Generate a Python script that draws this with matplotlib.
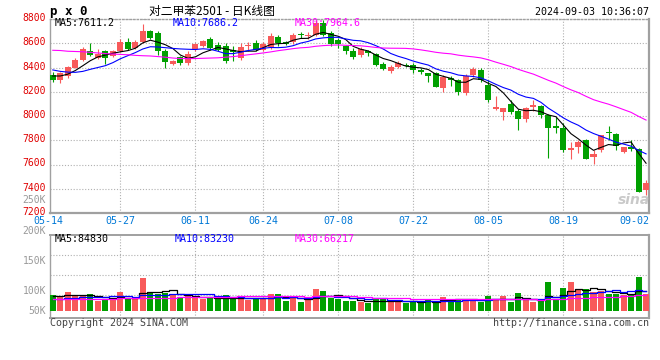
import matplotlib
matplotlib.use("Agg")
import matplotlib.pyplot as plt
import matplotlib.transforms as mtransforms
import numpy as np
import pandas as pd

# ---------------- data ----------------
tick_idx = [0, 9, 19, 28, 38, 48, 58, 68, 78]
tick_labels = ["05-14", "05-27", "06-11", "06-24", "07-08", "07-22", "08-05", "08-19", "09-02"]

opens = [8340, 8295, 8330, 8400, 8462, 8532, 8480, 8535, 8495, 8533,
         8608, 8557, 8610, 8703, 8684, 8540, 8430, 8484, 8437, 8550,
         8575, 8638, 8588, 8575, 8541, 8478, 8575, 8602, 8541, 8569,
         8651, 8610, 8610, 8672, 8662, 8671, 8765, 8684, 8630, 8575,
         8539, 8500, 8533, 8511, 8429, 8368, 8404, 8423, 8418, 8379,
         8352, 8352, 8234, 8316, 8297, 8190, 8338, 8379, 8256, 8055,
         8036, 8099, 8044, 7975, 8077, 8082, 8008, 7918, 7904, 7720,
         7747, 7802, 7665, 7718, 7871, 7852, 7706, 7747, 7725, 7390]
closes = [8298, 8355, 8404, 8462, 8555, 8505, 8510, 8480, 8538, 8614,
          8555, 8608, 8703, 8645, 8533, 8448, 8450, 8437, 8511, 8594,
          8615, 8560, 8547, 8451, 8530, 8566, 8583, 8542, 8594, 8662,
          8602, 8597, 8671, 8665, 8668, 8770, 8672, 8590, 8590, 8533,
          8487, 8553, 8520, 8423, 8388, 8401, 8437, 8410, 8377, 8360,
          8333, 8242, 8324, 8294, 8201, 8330, 8388, 8295, 8132, 8072,
          8065, 8036, 7975, 8069, 8091, 8005, 7902, 7904, 7720, 7739,
          7788, 7648, 7690, 7840, 7857, 7753, 7747, 7731, 7376, 7445]
highs = [8365, 8362, 8414, 8475, 8565, 8600, 8550, 8545, 8545, 8635,
         8645, 8625, 8758, 8712, 8700, 8553, 8465, 8495, 8539, 8603,
         8630, 8655, 8610, 8600, 8575, 8602, 8610, 8625, 8610, 8684,
         8670, 8616, 8684, 8690, 8690, 8790, 8790, 8700, 8643, 8588,
         8560, 8566, 8547, 8520, 8443, 8423, 8451, 8437, 8437, 8393,
         8355, 8366, 8338, 8333, 8305, 8345, 8407, 8393, 8297, 8165,
         8069, 8132, 8055, 8077, 8132, 8091, 8017, 7995, 7940, 7788,
         7802, 7808, 7720, 7843, 7915, 7857, 7747, 7802, 7733, 7472]
lows = [8280, 8270, 8310, 8395, 8450, 8495, 8470, 8425, 8485, 8525,
        8545, 8550, 8602, 8632, 8505, 8400, 8420, 8420, 8420, 8540,
        8565, 8548, 8533, 8437, 8456, 8465, 8535, 8533, 8533, 8555,
        8575, 8583, 8594, 8640, 8635, 8660, 8660, 8575, 8560, 8512,
        8470, 8487, 8492, 8415, 8382, 8355, 8396, 8401, 8355, 8344,
        8283, 8240, 8195, 8250, 8173, 8175, 8324, 8278, 8118, 8050,
        7967, 8014, 7885, 7953, 8041, 7980, 7655, 7863, 7706, 7648,
        7692, 7643, 7606, 7706, 7805, 7720, 7692, 7714, 7376, 7349]
vol_k = [65.3, 62.6, 79.2, 65.3, 62.6, 69.5, 41.7, 51.4, 51.4, 79.2,
         51.4, 48.7, 136.2, 79.2, 72.3, 76.5, 65.3, 54.2, 65.3, 58.4,
         51.4, 54.2, 48.7, 65.3, 54.2, 58.4, 44.5, 54.2, 51.4, 69.5,
         69.5, 41.7, 62.6, 37.5, 48.7, 90.4, 82.0, 54.2, 48.7, 41.7,
         41.7, 37.5, 33.4, 51.4, 48.7, 41.7, 41.7, 33.4, 41.7, 33.4,
         51.4, 37.5, 58.4, 51.4, 48.7, 51.4, 44.5, 37.5, 61.2, 51.4,
         61.2, 37.5, 75.1, 48.7, 37.5, 41.7, 120.9, 44.5, 95.9, 120.9,
         86.2, 90.4, 79.2, 82.0, 72.3, 72.3, 65.3, 68.1, 141.8, 72.3]

# leading moving-average values (history before the window)
ma5_head = [8330, 8330, 8345, 8375]
ma10_head = [8380, 8368, 8362, 8360, 8368, 8385, 8400, 8415, 8440]
ma30_head = [8542, 8540, 8534, 8532, 8530, 8525, 8520, 8515, 8511, 8508,
             8505, 8500, 8497, 8495, 8490, 8485, 8478, 8474, 8473, 8474,
             8476, 8478, 8480, 8485, 8490, 8497, 8505, 8512, 8520]
vma5_head = [61, 63, 66, 67]
vma10_head = [49, 52, 54, 55, 57, 58, 59, 60, 61]
vma30_head = [51, 51, 51, 51, 52, 52, 52, 52, 52, 53,
              53, 54, 54, 55, 55, 56, 56, 57, 57, 58,
              58, 59, 59, 60, 60, 61, 61, 62, 62]

price_ticks = [7200, 7400, 7600, 7800, 8000, 8200, 8400, 8600, 8800]
vol_labels = ["250K", "200K", "150K", "100K", "50K"]

title_text = "对二甲苯2501 - 日K线图"
code_text = "p x 0"
time_text = "2024-09-03 10:36:07"
ma_labels = ["MA5:7611.2", "MA10:7686.2", "MA30:7964.6"]
vma_labels = ["MA5:84830", "MA10:83230", "MA30:66217"]

# ---------------- styling ----------------
W, H = 660, 360
RED = "#F85A5A"
GREEN = "#00A000"
GRID = "#B0B0B0"
BORDER = "#A0A0A0"
MA_COLORS = ["#000000", "#0000FF", "#FF00FF"]
MONO = "DejaVu Sans Mono"
CJK = ["Noto Sans CJK SC", "DejaVu Sans"]
DOT = (0, (1, 1.6))

fig = plt.figure(figsize=(W / 100, H / 100), dpi=100)
fig.patch.set_facecolor("white")


def fx(px):
    return px / W


def fy(py):
    return 1 - py / H


L, R = 50, 649
ax = fig.add_axes([fx(L), fy(213), (R - L) / W, (213 - 19) / H])
axv = fig.add_axes([fx(L), fy(318), (R - L) / W, (318 - 235) / H])

o = np.array(opens, float)
c = np.array(closes, float)
hi = np.array(highs, float)
lo = np.array(lows, float)
v = np.array(vol_k, float)
x = np.arange(len(c))
up = c >= o
cols = np.where(up, RED, GREEN)


def ma_with_head(values, n, head):
    m = pd.Series(values, dtype=float).rolling(n).mean().to_numpy()
    m[:len(head)] = head
    return m


# ---- main candlestick panel ----
for a in (ax, axv):
    a.set_xlim(-0.37, 79.39)
    for i in tick_idx[1:-1]:
        a.axvline(i, color=GRID, linestyle=DOT, linewidth=0.8, zorder=0)

ax.set_ylim(7200, 8800)
ax.set_yticks(price_ticks)
ax.set_yticklabels([str(t) for t in price_ticks])
ax.grid(axis="y", color=GRID, linestyle=DOT, linewidth=0.8, zorder=0)
ax.set_axisbelow(True)

ax.vlines(x, lo, hi, colors=cols, linewidth=0.8, zorder=3)
diff = np.abs(c - o)
body_h = np.maximum(diff, 9)
body_b = np.where(diff < 9, (o + c) / 2 - 4.5, np.minimum(o, c))
ax.bar(x, body_h, bottom=body_b, width=0.8, color=cols, linewidth=0, zorder=4)

ma5 = ma_with_head(closes, 5, ma5_head)
ma10 = ma_with_head(closes, 10, ma10_head)
ma30 = ma_with_head(closes, 30, ma30_head)
for m, col in zip((ma5, ma10, ma30), MA_COLORS):
    ax.plot(x, m, color=col, linewidth=0.8, zorder=5)

ax.set_xticks(tick_idx)
ax.set_xticklabels(tick_labels)
ax.tick_params(axis="x", length=0, pad=2.5, labelsize=7.2, labelcolor="#0078D7")
ax.tick_params(axis="y", length=0, pad=3, labelsize=7.0, labelcolor="#E00000")
off = mtransforms.ScaledTranslation(0, 2 / 100, fig.dpi_scale_trans)
for lab in ax.get_yticklabels():
    lab.set_fontfamily(MONO)
    lab.set_transform(lab.get_transform() + off)
xlabs = ax.get_xticklabels()
for lab in xlabs:
    lab.set_fontfamily(MONO)
shift_l = mtransforms.ScaledTranslation(-4 / 100, 0, fig.dpi_scale_trans)
shift_r = mtransforms.ScaledTranslation(-4.5 / 100, 0, fig.dpi_scale_trans)
xlabs[0].set_transform(xlabs[0].get_transform() + shift_l)
xlabs[-1].set_transform(xlabs[-1].get_transform() + shift_r)

for name, sp in ax.spines.items():
    sp.set_color(BORDER)
    sp.set_linewidth(1.0)
ax.spines["top"].set_linestyle(DOT)
ax.spines["right"].set_linewidth(1.6)
ax.spines["bottom"].set_linewidth(1.6)

# ---- volume panel ----
axv.set_ylim(-29, 317)
axv.bar(x, v, width=0.8, color=cols, linewidth=0, zorder=3)
vma5 = ma_with_head(vol_k, 5, vma5_head)
vma10 = ma_with_head(vol_k, 10, vma10_head)
vma30 = ma_with_head(vol_k, 30, vma30_head)
for m, col in zip((vma5, vma10, vma30), MA_COLORS):
    axv.plot(x, m, color=col, linewidth=0.9, drawstyle="steps-mid", zorder=5)
for f in (20 / 83, 40 / 83, 60 / 83):
    axv.plot([0, 1], [1 - f, 1 - f], transform=axv.transAxes, color=GRID,
             linestyle=DOT, linewidth=0.8, zorder=0)
axv.set_xticks([])
axv.set_yticks([])
for name, sp in axv.spines.items():
    sp.set_color(BORDER)
    sp.set_linewidth(1.0)
axv.spines["right"].set_linewidth(1.6)
axv.spines["top"].set_linewidth(1.4)
axv.spines["bottom"].set_linewidth(1.4)

# ---- texts ----
fig.text(fx(50), fy(11), code_text, family=MONO, fontweight="bold", fontsize=9,
         ha="left", va="center")
fig.text(fx(212), fy(11), title_text, family=CJK, fontsize=8.5, ha="center", va="center")
fig.text(fx(649), fy(12), time_text, family=MONO, fontsize=7.2, ha="right", va="center")

for lab, px, col in zip(ma_labels, (55, 173, 295), MA_COLORS):
    fig.text(fx(px), fy(23), lab, family=MONO, fontsize=7.2, color=col,
             ha="left", va="center", zorder=10)
for lab, px, col in zip(vma_labels, (55, 175, 295), MA_COLORS):
    fig.text(fx(px), fy(238.5), lab, family=MONO, fontsize=7.2, color=col,
             ha="left", va="center", zorder=10)

for lab, py in zip(vol_labels, (200, 231, 261, 291, 311)):
    fig.text(fx(46), fy(py), lab, family=MONO, fontsize=7.0, color="#999999",
             ha="right", va="center")

fig.text(fx(50), fy(323.5), "Copyright 2024 SINA.COM", family=MONO, fontsize=7.2,
         color="#444444", ha="left", va="center")
fig.text(fx(649), fy(323.5), "http://finance.sina.com.cn", family=MONO, fontsize=7.2,
         color="#444444", ha="right", va="center")

fig.text(fx(634), fy(200), "sina", family="DejaVu Sans", fontsize=10, fontweight="bold",
         style="italic", color="#C4C4C4", alpha=0.9, ha="center", va="center", zorder=10)

fig.savefig("out.png", dpi=100)
